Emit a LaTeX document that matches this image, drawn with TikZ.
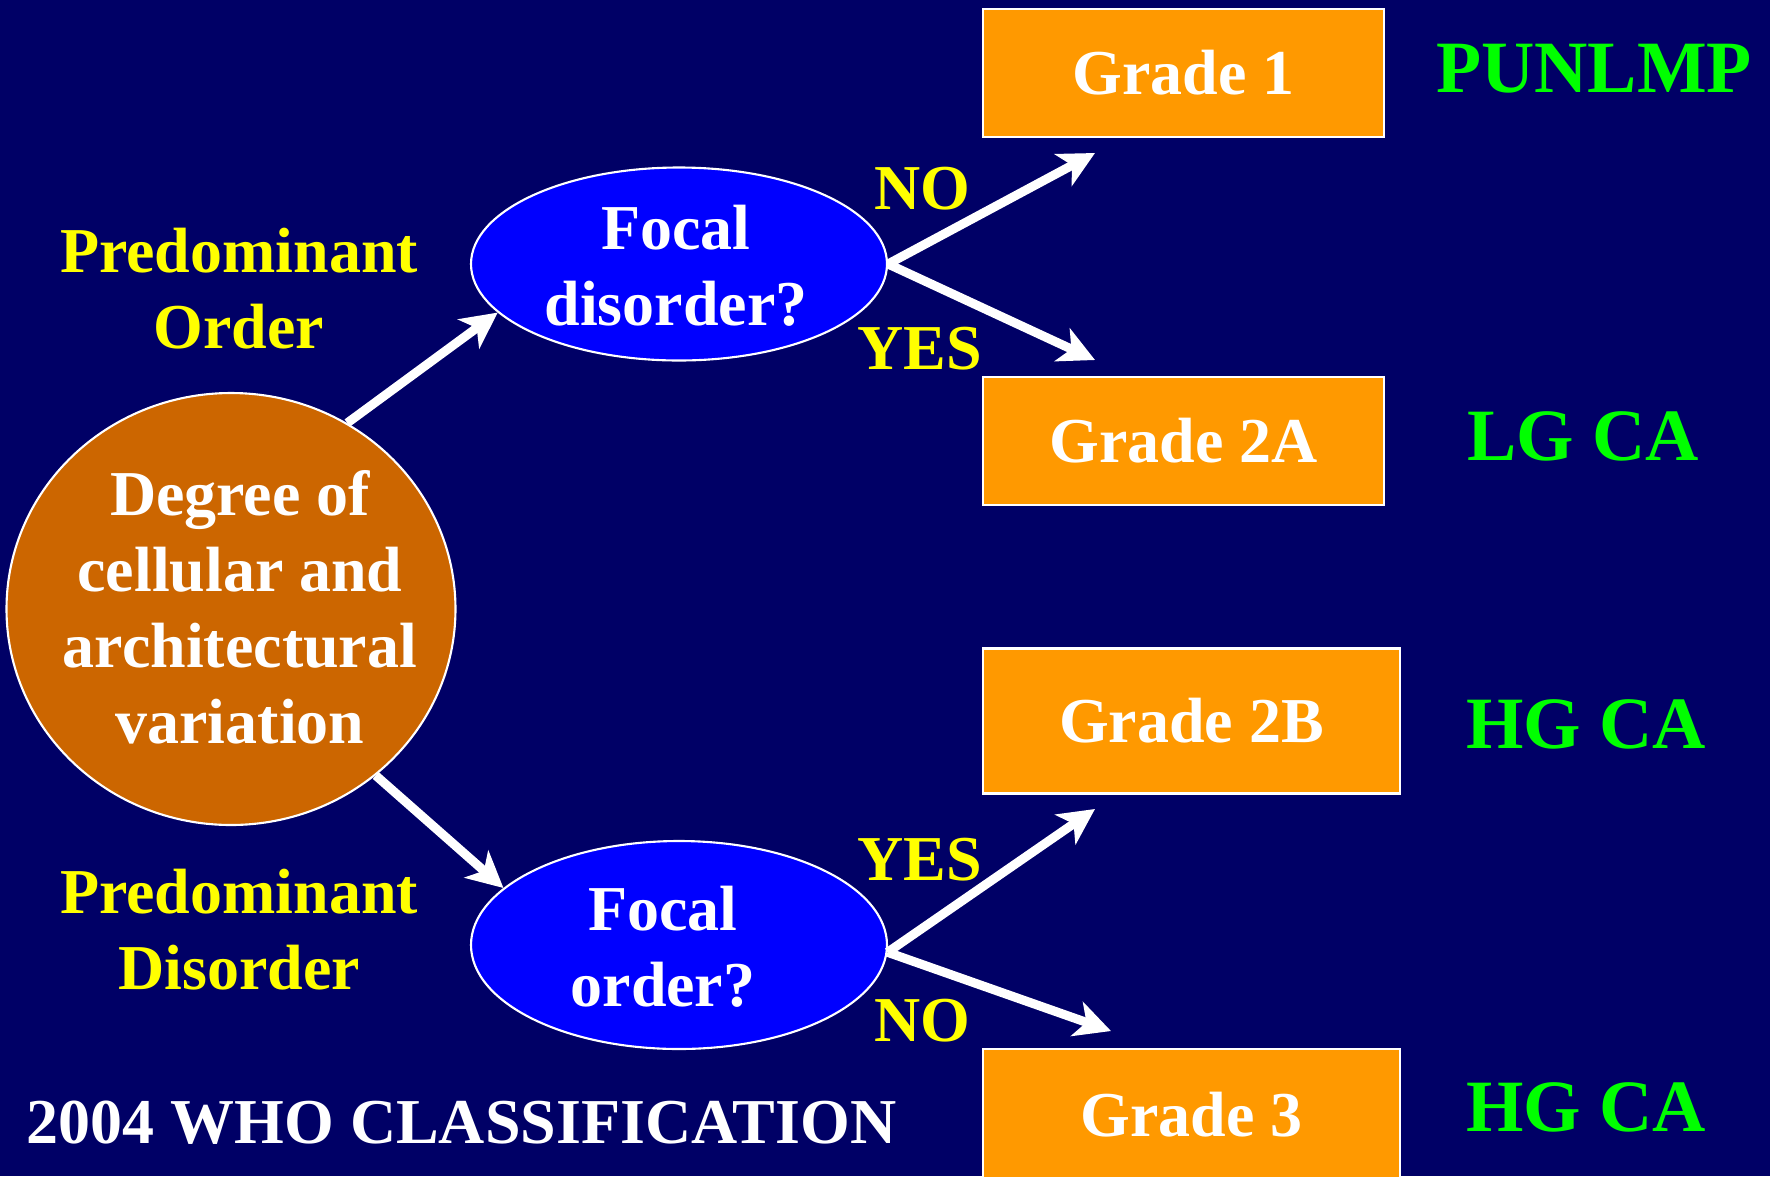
\documentclass[tikz,border=0pt]{standalone}
\usepackage{fontspec}
\setmainfont{Liberation Serif}
\usetikzlibrary{arrows.meta,shapes.geometric}
\definecolor{bgnavy}{RGB}{0,0,102}
\definecolor{gradeorange}{RGB}{255,153,0}
\definecolor{rootbrown}{RGB}{204,102,0}
\definecolor{askblue}{RGB}{0,0,255}
\definecolor{labelyellow}{RGB}{255,255,0}
\definecolor{labelgreen}{RGB}{0,255,0}
\tikzset{
  maintext/.style={font=\fontsize{18.2}{21.6}\selectfont\bfseries, align=center},
  gradebox/.style={maintext, draw=white, line width=0.6pt, fill=gradeorange, text=white, inner sep=0pt},
  rootnode/.style={ellipse, draw=white, line width=0.6pt, fill=rootbrown, inner sep=0pt},
  asknode/.style={ellipse, draw=white, line width=0.6pt, fill=askblue, inner sep=0pt},
  inlabel/.style={maintext, text=white, inner sep=0pt},
  answer/.style={maintext, text=labelyellow, anchor=base},
  sidenote/.style={maintext, text=labelyellow},
  result/.style={font=\fontsize{21}{24}\selectfont\bfseries, text=labelgreen, anchor=base},
  flow/.style={draw=white, line width=0.9mm, -{Stealth[length=3.6mm, width=3.6mm, inset=1mm]}}
}
\begin{document}
\begin{tikzpicture}[x=0.1mm, y=-0.1mm]
\fill[bgnavy] (0,0) rectangle (1770,1176);
\useasboundingbox (0,0) rectangle (1770,1176);
\clip (0,0) rectangle (1770,1176);

% outcome boxes
\node[gradebox, minimum width=40.1mm, minimum height=12.8mm] (g1)  at (1183.5,73)  {Grade 1};
\node[gradebox, minimum width=40.1mm, minimum height=12.8mm] (g2a) at (1183.5,441) {Grade 2A};
\node[gradebox, minimum width=41.7mm, minimum height=14.5mm] (g2b) at (1191.5,721) {Grade 2B};
\node[gradebox, minimum width=41.7mm, minimum height=13.2mm] (g3)  at (1191.5,1115) {Grade 3};

% starting criterion and the two questions
\node[rootnode, minimum width=44.9mm, minimum height=43.2mm] (root) at (231,609) {};
\node[inlabel] (roottext) at (240,607) {Degree of\\cellular and\\architectural\\variation};
\node[asknode, minimum width=41.6mm, minimum height=19.3mm] (q1) at (679,264) {};
\node[inlabel] (q1text) at (676,266) {Focal\\disorder?};
\node[asknode, minimum width=41.6mm, minimum height=20.8mm] (q2) at (679,945) {};
\node[inlabel] (q2text) at (663,947) {Focal\\order?};

% free ends of the answer arrows
\coordinate (t1) at (1095,153);
\coordinate (t2) at (1095,360);
\coordinate (t3) at (1095,809);
\coordinate (t4) at (1111,1031);

\draw[flow] (root.58) -- (q1.195.8);
\draw[flow] (root.-49) -- (q2.162.2);
\draw[flow] (q1.east) -- (t1);
\draw[flow] (q1.east) -- (t2);
\draw[flow] (q2.-2) -- (t3);
\draw[flow] (q2.-2) -- (t4);

% answer labels
\node[answer] (no1)  at (922,209)  {NO};
\node[answer] (yes1) at (920,369)  {YES};
\node[answer] (yes2) at (920,880)  {YES};
\node[answer] (no2)  at (922,1041) {NO};

% side notes
\node[sidenote] (po) at (239,289) {Predominant\\Order};
\node[sidenote] (pd) at (239,930) {Predominant\\Disorder};

% classification terms
\node[result] (r1) at (1594,92.6) {PUNLMP};
\node[result] (r2) at (1583,460.5) {LG CA};
\node[result] (r3) at (1586,748) {HG CA};
\node[result] (r4) at (1586,1131) {HG CA};

\node[maintext, text=white, anchor=base west, inner sep=0pt] (title) at (26,1143) {2004 WHO CLASSIFICATION};
\end{tikzpicture}
\end{document}
